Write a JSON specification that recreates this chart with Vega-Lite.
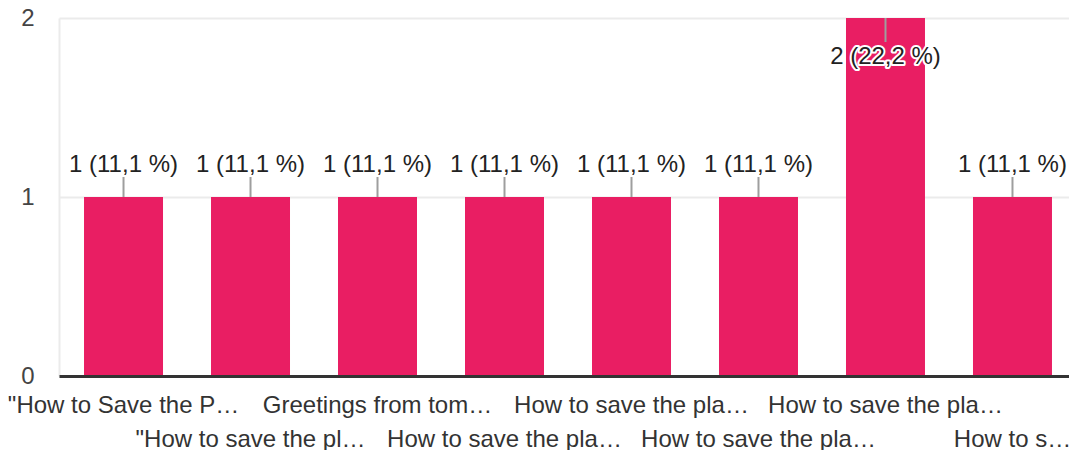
{
  "$schema": "https://vega.github.io/schema/vega-lite/v6.json",
  "width": 1018,
  "height": 358,
  "autosize": {"type": "none"},
  "padding": {"left": 59, "top": 18, "right": 0, "bottom": 74},
  "background": "white",
  "config": {"view": {"stroke": null}, "font": "Liberation Sans"},
  "data": {
    "values": [
      {"answer": "\"How to Save the Planet\" poster", "count": 1, "label": "1 (11,1 %)"},
      {"answer": "\"How to save the planet\" essay", "count": 1, "label": "1 (11,1 %)"},
      {"answer": "Greetings from tomorrow", "count": 1, "label": "1 (11,1 %)"},
      {"answer": "How to save the planet (comic)", "count": 1, "label": "1 (11,1 %)"},
      {"answer": "How to save the planet (video)", "count": 1, "label": "1 (11,1 %)"},
      {"answer": "How to save the planet (podcast)", "count": 1, "label": "1 (11,1 %)"},
      {"answer": "How to save the planet (poster)", "count": 2, "label": "2 (22,2 %)"},
      {"answer": "How to save the planet (song)", "count": 1, "label": "1 (11,1 %)"}
    ]
  },
  "transform": [{"joinaggregate": [{"op": "max", "field": "count", "as": "maxc"}]}],
  "encoding": {
    "x": {
      "field": "answer",
      "type": "nominal",
      "sort": null,
      "scale": {"paddingInner": 0.378, "paddingOuter": 0.197},
      "axis": {
        "title": null,
        "labelAngle": 0,
        "ticks": false,
        "tickSize": 0,
        "labelPadding": 17,
        "labelFontSize": 24,
        "labelColor": "#333333",
        "labelLimit": 235.7,
        "labelOverlap": false,
        "labelBound": false,
        "labelBaseline": "top",
        "labelLineHeight": 34,
        "labelExpr": "round(datum.index * 7) == 7 ? ['', truncate(datum.label, 9)] : round(datum.index * 7) % 2 == 1 ? ['', datum.label] : datum.label",
        "domainColor": "#333333",
        "domainWidth": 3,
        "zindex": 1
      }
    },
    "y": {
      "field": "count",
      "type": "quantitative",
      "scale": {"domain": [0, 2], "nice": false},
      "axis": {
        "title": null,
        "grid": true,
        "tickCount": 2,
        "ticks": false,
        "tickSize": 0,
        "labelPadding": 25,
        "labelFontSize": 24,
        "labelColor": "#444444",
        "domainColor": "#ebebeb",
        "domainWidth": 2,
        "gridColor": "#ebebeb",
        "gridWidth": 2
      }
    }
  },
  "layer": [
    {
      "mark": {"type": "bar", "color": "#E91E63"}
    },
    {
      "transform": [{"filter": "datum.count < datum.maxc"}],
      "mark": {"type": "rule", "color": "#9e9e9e", "strokeWidth": 2, "y2Offset": -20},
      "encoding": {
        "y2": {"field": "count"}
      }
    },
    {
      "transform": [{"filter": "datum.count == datum.maxc"}],
      "mark": {"type": "rule", "color": "#9e9e9e", "strokeWidth": 2, "y2Offset": 24},
      "encoding": {
        "y2": {"field": "count"}
      }
    },
    {
      "transform": [{"filter": "datum.count < datum.maxc"}],
      "mark": {"type": "text", "baseline": "alphabetic", "dy": -25, "fontSize": 24, "color": "#222222"},
      "encoding": {
        "text": {"field": "label"}
      }
    },
    {
      "transform": [{"filter": "datum.count == datum.maxc"}],
      "mark": {"type": "text", "baseline": "alphabetic", "dy": 46, "fontSize": 24, "color": "white", "stroke": "white", "strokeWidth": 4, "strokeJoin": "round"},
      "encoding": {
        "text": {"field": "label"}
      }
    },
    {
      "transform": [{"filter": "datum.count == datum.maxc"}],
      "mark": {"type": "text", "baseline": "alphabetic", "dy": 46, "fontSize": 24, "color": "#222222"},
      "encoding": {
        "text": {"field": "label"}
      }
    }
  ]
}
